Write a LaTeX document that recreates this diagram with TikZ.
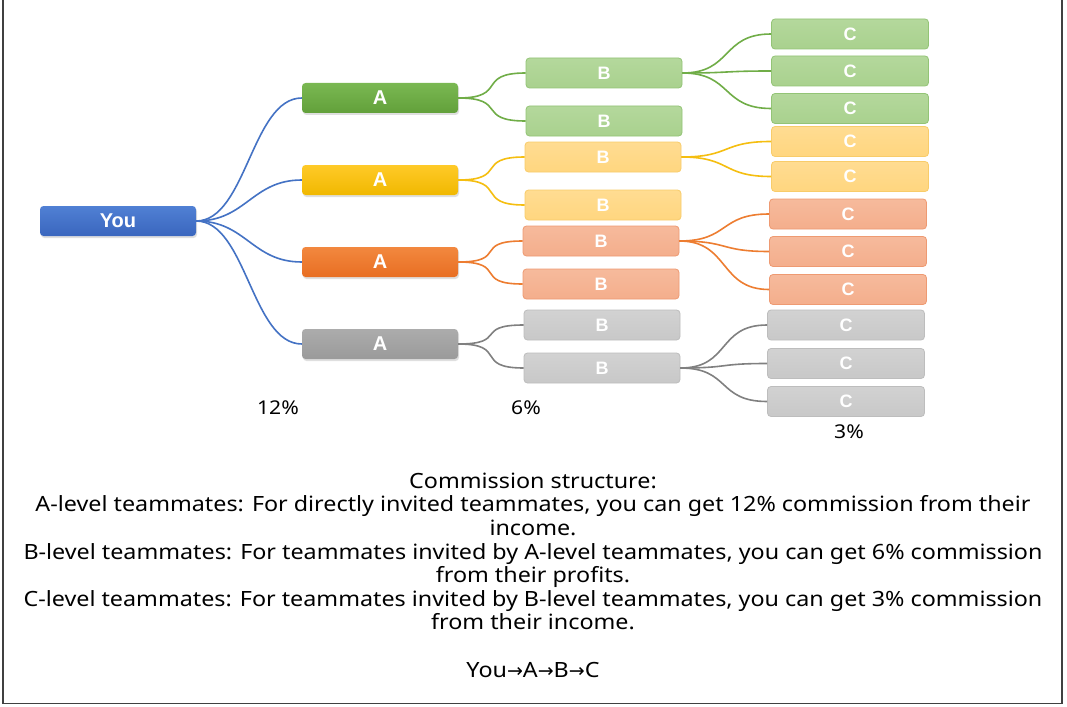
\documentclass[tikz,border=0pt]{standalone}
\usepackage{fontspec}
\setmainfont{Noto Sans}[FakeStretch=1.11]
\newfontfamily\lblfont{Liberation Sans}
\newfontfamily\arrowfont{DejaVu Sans}
\usetikzlibrary{shadows}
\definecolor{cblue}{HTML}{4472C4}
\definecolor{cbluetop}{HTML}{5080D4}
\definecolor{cbluebot}{HTML}{3A66BE}
\definecolor{cgreen}{HTML}{70AD47}
\definecolor{cgreentop}{HTML}{7AB852}
\definecolor{cgreenbot}{HTML}{62A03A}
\definecolor{cyellow}{HTML}{F5BE10}
\definecolor{cyellowtop}{HTML}{FFCA28}
\definecolor{cyellowbot}{HTML}{F0B800}
\definecolor{corange}{HTML}{ED7D31}
\definecolor{corangetop}{HTML}{F2883F}
\definecolor{corangebot}{HTML}{E86E22}
\definecolor{cgray}{HTML}{A5A5A5}
\definecolor{cgraytop}{HTML}{ACACAC}
\definecolor{cgraybot}{HTML}{9A9A9A}
\definecolor{cgrayline}{HTML}{808080}
\definecolor{lgreen}{HTML}{A9D18E}
\definecolor{lgreentop}{HTML}{B4D89C}
\definecolor{lgreenbd}{HTML}{93C476}
\definecolor{lyellow}{HTML}{FFD67F}
\definecolor{lyellowtop}{HTML}{FFDC92}
\definecolor{lyellowbd}{HTML}{F8CC6A}
\definecolor{lorange}{HTML}{F4AE8C}
\definecolor{lorangetop}{HTML}{F6BA9C}
\definecolor{lorangebd}{HTML}{EE9A72}
\definecolor{lgray}{HTML}{C8C8C8}
\definecolor{lgraytop}{HTML}{D2D2D2}
\definecolor{lgraybd}{HTML}{BDBDBD}
\definecolor{frame}{HTML}{404040}
\tikzset{
  box/.style={rounded corners=3.5pt, minimum width=156pt, minimum height=30pt, inner sep=0pt, text=white},
  bigbox/.style={box, font=\lblfont\fontsize{20}{20}\selectfont\bfseries, draw=none,
     drop shadow={shadow xshift=1pt, shadow yshift=-2pt, opacity=0.25}},
  smallbox/.style={box, font=\lblfont\fontsize{18}{18}\selectfont\bfseries, line width=0.8pt},
  youbox/.style={bigbox, top color=cbluetop, bottom color=cbluebot},
  agreen/.style={bigbox, top color=cgreentop, bottom color=cgreenbot},
  ayellow/.style={bigbox, top color=cyellowtop, bottom color=cyellowbot},
  aorange/.style={bigbox, top color=corangetop, bottom color=corangebot},
  agray/.style={bigbox, top color=cgraytop, bottom color=cgraybot},
  sgreen/.style={smallbox, top color=lgreentop, bottom color=lgreen, draw=lgreenbd},
  syellow/.style={smallbox, top color=lyellowtop, bottom color=lyellow, draw=lyellowbd},
  sorange/.style={smallbox, top color=lorangetop, bottom color=lorange, draw=lorangebd},
  sgray/.style={smallbox, top color=lgraytop, bottom color=lgray, draw=lgraybd},
  link/.style={line width=1.6pt},
  pct/.style={font=\fontsize{19}{19}\selectfont, text=black},
}
\newcommand{\branch}[3]{\draw[link,#1] (#2.east) .. controls ([xshift=50pt]#2.east) and ([xshift=-50pt]#3.west) .. (#3.west);}
\newcommand{\arr}{{\arrowfont\fontsize{19}{19}\selectfont→}}
\begin{document}
\begin{tikzpicture}[x=1pt,y=-1pt]
\useasboundingbox (0,0) rectangle (1067,706);
\fill[white] (0,0) rectangle (1067,706);
\draw[frame, line width=1.5pt] (3,0) -- (3,703.5) -- (1062,703.5) -- (1062,0);
% nodes
\node[youbox] (you) at (118,221) {You};
\node[agreen] (a1) at (380,98) {A};
\node[ayellow] (a2) at (380,180) {A};
\node[aorange] (a3) at (380,262) {A};
\node[agray] (a4) at (380,344) {A};
\node[sgreen] (b1) at (604,73) {B};
\node[sgreen] (b2) at (604,121) {B};
\node[syellow] (b3) at (603,157) {B};
\node[syellow] (b4) at (603,205) {B};
\node[sorange] (b5) at (601,241) {B};
\node[sorange] (b6) at (601,284) {B};
\node[sgray] (b7) at (602,325) {B};
\node[sgray] (b8) at (602,368) {B};
\node[sgreen, minimum width=157pt] (c1) at (850,34) {C};
\node[sgreen, minimum width=157pt] (c2) at (850,71) {C};
\node[sgreen, minimum width=157pt] (c3) at (850,108.5) {C};
\node[syellow, minimum width=157pt] (c4) at (850,141.5) {C};
\node[syellow, minimum width=157pt] (c5) at (850,176.5) {C};
\node[sorange, minimum width=157pt] (c6) at (848,214) {C};
\node[sorange, minimum width=157pt] (c7) at (848,251.5) {C};
\node[sorange, minimum width=157pt] (c8) at (848,289.5) {C};
\node[sgray, minimum width=157pt] (c9) at (846,325) {C};
\node[sgray, minimum width=157pt] (c10) at (846,363.5) {C};
\node[sgray, minimum width=157pt] (c11) at (846,401.5) {C};
% connectors
\branch{cblue}{you}{a1}
\branch{cblue}{you}{a2}
\branch{cblue}{you}{a3}
\branch{cblue}{you}{a4}
\branch{cgreen}{a1}{b1}
\branch{cgreen}{a1}{b2}
\branch{cyellow}{a2}{b3}
\branch{cyellow}{a2}{b4}
\branch{corange}{a3}{b5}
\branch{corange}{a3}{b6}
\branch{cgrayline}{a4}{b7}
\branch{cgrayline}{a4}{b8}
\branch{cgreen}{b1}{c1}
\branch{cgreen}{b1}{c2}
\branch{cgreen}{b1}{c3}
\branch{cyellow}{b3}{c4}
\branch{cyellow}{b3}{c5}
\branch{corange}{b5}{c6}
\branch{corange}{b5}{c7}
\branch{corange}{b5}{c8}
\branch{cgrayline}{b8}{c9}
\branch{cgrayline}{b8}{c10}
\branch{cgrayline}{b8}{c11}
% percentages
\node[pct] (p12) at (278,408) {12\%};
\node[pct] (p6) at (526,408) {6\%};
\node[pct] (p3) at (849,432) {3\%};
% description
\node[align=center, inner sep=0pt, font=\fontsize{21}{23.6}\selectfont] (desc) at (533,575) {%
Commission structure:\\
A-level teammates: For directly invited teammates, you can get 12\% commission from their\\
income.\\
B-level teammates: For teammates invited by A-level teammates, you can get 6\% commission\\
from their profits.\\
C-level teammates: For teammates invited by B-level teammates, you can get 3\% commission\\
from their income.\\[23.6pt]
You\arr A\arr B\arr C};
\end{tikzpicture}
\end{document}
